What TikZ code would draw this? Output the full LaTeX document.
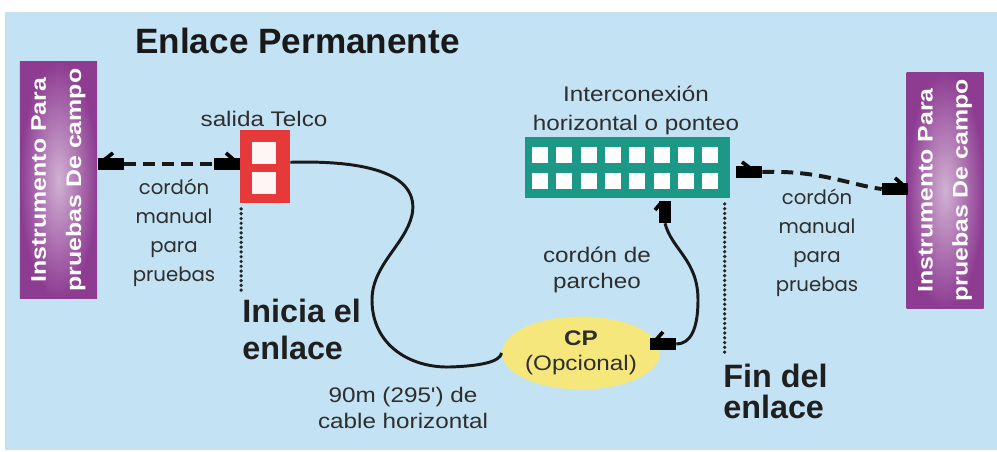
\documentclass[tikz,border=0pt]{standalone}
\usepackage{fontspec}
\setmainfont{Liberation Sans}
\newfontfamily\labelfont[FakeStretch=1.15]{Liberation Sans}
\newfontfamily\widefont[FakeStretch=1.18]{Liberation Sans}
\newfontfamily\roundfont{Poppins}
\usetikzlibrary{positioning, shapes.geometric, calc}

\definecolor{bgblue}{HTML}{C3E2F3}
\definecolor{purp}{HTML}{8D3C92}
\definecolor{telred}{HTML}{E63A3A}
\definecolor{panelteal}{HTML}{1E9886}
\definecolor{cpyellow}{HTML}{F6E77C}
\definecolor{txt}{HTML}{2E2E2E}

\tikzset{
  instr/.style={rotate=90, minimum width=5.9cm, minimum height=1.925cm, inner sep=0pt,
    inner color=purp!40!white, outer color=purp, text=white, align=center,
    font=\widefont\fontsize{15}{25}\selectfont\bfseries},
  lbl/.style={text=txt, align=center, inner sep=0pt, font=\labelfont\fontsize{15}{20.6}\selectfont},
  cordlbl/.style={text=txt, align=center, inner sep=0pt, font=\roundfont\fontsize{14}{20.6}\selectfont},
  bigtxt/.style={text=black!88, align=left, inner sep=0pt, font=\fontsize{23}{26.3}\selectfont\bfseries},
  plug/.style={fill=black, minimum width=0.65cm, minimum height=0.28cm, inner sep=0pt},
  latch/.style={line width=2.6pt, black},
  cable/.style={line width=2.1pt, black!90},
  testcord/.style={line width=2.8pt, black!90, dash pattern=on 8.5pt off 5pt},
  linkmark/.style={line width=2.6pt, line cap=round, dash pattern=on 0pt off 3.4pt, black!85}
}

\begin{document}
\begin{tikzpicture}[x=0.025cm, y=-0.025cm]
	\useasboundingbox (0,0) rectangle (997,452);
	\fill[white] (0,0) rectangle (997,452);
	\fill[bgblue] (5,12) rectangle (997,450);
	\node[anchor=base west, inner sep=0pt, font=\fontsize{25}{30}\selectfont\bfseries, text=black!90] (title) at (135,54) {Enlace Permanente};
	% instrumentos
	\node[instr] (instL) at (58.5,180) {Instrumento Para\\pruebas De campo};
	\node[instr] (instR) at (945,190.5) {Instrumento Para\\pruebas De campo};
	% salida Telco
	\node[fill=telred, minimum width=1.25cm, minimum height=1.825cm, inner sep=0pt] (telco) at (265,166.5) {};
	\fill[white!96!red] (252,142) rectangle (276,164);
	\fill[white!96!red] (252,172) rectangle (276,194);
	\node[lbl, anchor=base] (telcolbl) at (264,127) {salida Telco};
	% panel de interconexion
	\node[fill=panelteal, minimum width=5.125cm, minimum height=1.525cm, inner sep=0pt] (panel) at (627.5,167.5) {};
	\foreach \i in {0,...,7} {
		\fill[white] (532+24.3*\i,147) rectangle ++(16,16);
		\fill[white] (532+24.3*\i,173) rectangle ++(16,16);
	}
	\node[lbl] (panellbl) at (636,110) {Interconexi\'on\\horizontal o ponteo};
	% CP
	\node[ellipse, fill=cpyellow, minimum width=3.575cm, minimum height=1.825cm, inner sep=0pt, lbl, font=\labelfont\fontsize{15}{18}\selectfont] (cp) at (581,353) {{\bfseries CP}\\(Opcional)};
	% conectores
	\node[plug] (plugA) at (111,164) {};
	\node[plug] (plugB) at (227,164) {};
	\node[plug] (plugC) at (749,172) {};
	\node[plug] (plugD) at (895,189) {};
	\node[plug, rotate=90, minimum width=0.55cm] (plugE) at (665,212) {};
	\node[plug] (plugF) at (663,344) {};
	\draw[latch] (104,160) -- (113,153);
	\draw[latch] (226,153) -- (234,160);
	\draw[latch] (742,162) -- (750,168);
	\draw[latch] (895,178) -- (903,185);
	\draw[latch] (655,210) -- (661,203);
	\draw[latch] (655,341) -- (663,332);
	% cordones
	\draw[testcord] (plugA.east) -- (plugB.west);
	\draw[testcord] (plugC.east) .. controls (820,170) and (850,185) .. (plugD.west);
	\draw[cable] ([yshift=3pt]telco.east) .. controls (370,160) and (420,175) .. (412,215)
		.. controls (405,245) and (372,265) .. (372,300)
		.. controls (372,345) and (410,368) .. (450,367)
		.. controls (480,366) and (500,362) .. (cp.west);
	\draw[cable] (plugE.west) .. controls (672,250) and (698,260) .. (698,300)
		.. controls (698,330) and (690,344) .. (plugF.east);
	% limites del enlace
	\draw[linkmark] ([xshift=1pt,yshift=-4pt]telco.south west) -- ++(0,84);
	\draw[linkmark] ([xshift=-4pt,yshift=-4pt]panel.south east) -- ++(0,150);
	% textos
	\node[cordlbl] (cordL) at (174,233) {cord\'on\\manual\\para\\pruebas};
	\node[cordlbl] (cordR) at (817,243) {cord\'on\\manual\\para\\pruebas};
	\node[lbl, font=\labelfont\fontsize{15}{18}\selectfont] (patchlbl) at (597,270) {cord\'on de\\parcheo};
	\node[lbl, font=\labelfont\fontsize{15}{19}\selectfont] (cablelbl) at (403,408) {90m (295') de\\cable horizontal};
	\node[bigtxt, anchor=north west] (inicia) at (242,299) {Inicia el\\enlace};
	\node[bigtxt, anchor=north west, font=\fontsize{23}{22}\selectfont\bfseries] (fin) at (723,364) {Fin del\\enlace};
\end{tikzpicture}
\end{document}
